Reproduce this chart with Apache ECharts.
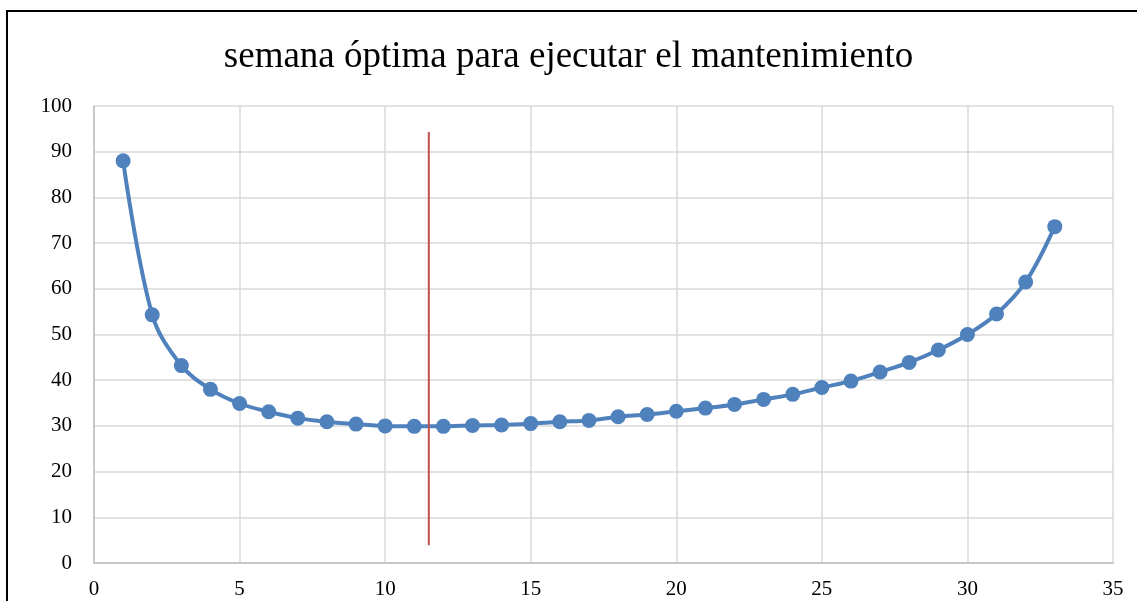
<!DOCTYPE html>
<html>
<head>
<meta charset="utf-8">
<script src="https://cdn.jsdelivr.net/npm/echarts@6/dist/echarts.min.js"></script>
<style>
  html, body { margin: 0; padding: 0; background: #fff; }
  #frame { position: absolute; left: 6px; top: 10px; width: 1140px; height: 600px; border: 2px solid #000; box-sizing: border-box; }
  #chart { position: absolute; left: 0; top: 0; width: 1137px; height: 601px; }
</style>
</head>
<body>
<div id="frame"></div>
<div id="chart"></div>
<script>
  // semanas y costo
  var weeks = [1, 2, 3, 4, 5, 6, 7, 8, 9, 10, 11, 12, 13, 14, 15, 16, 17,
    18, 19, 20, 21, 22, 23, 24, 25, 26, 27, 28, 29, 30, 31, 32, 33];
  var costs = [88, 54.3, 43.2, 38.0, 34.9, 33.1, 31.7, 30.9, 30.4, 30.0, 29.9,
    29.9, 30.1, 30.2, 30.5, 30.9, 31.2, 32.0, 32.5, 33.2, 33.9, 34.7, 35.8,
    36.9, 38.4, 39.8, 41.8, 43.9, 46.6, 50.0, 54.5, 61.5, 73.6];

  // línea roja: semana óptima
  var optimalWeek = 11.5;
  var optimalRange = [3.9, 94.3];

  var titleText = "semana óptima para ejecutar el mantenimiento";
  var serif = "'Liberation Serif', 'DejaVu Serif', serif";

  var chart = echarts.init(document.getElementById("chart"));

  var option = {
    animation: false,
    title: {
      text: titleText,
      left: "center",
      top: 34,
      textStyle: { fontFamily: serif, fontSize: 37, fontWeight: "normal", color: "#000" }
    },
    grid: { left: 94, right: 24, top: 106, bottom: 38 },
    xAxis: {
      type: "value",
      min: 0, max: 35, interval: 5,
      axisLine: { show: true, lineStyle: { color: "#bfbfbf", width: 1.5 } },
      axisTick: { show: false },
      axisLabel: { fontFamily: serif, fontSize: 21, color: "#000", margin: 16 },
      splitLine: { show: true, lineStyle: { color: "#d9d9d9", width: 1.5 } }
    },
    yAxis: {
      type: "value",
      min: 0, max: 100, interval: 10,
      axisLine: { show: true, lineStyle: { color: "#bfbfbf", width: 1.5 } },
      axisTick: { show: false },
      axisLabel: { fontFamily: serif, fontSize: 21, color: "#000", margin: 22 },
      splitLine: { show: true, lineStyle: { color: "#d9d9d9", width: 1.5 } }
    },
    series: [
      {
        type: "line",
        data: weeks.map(function (w, i) { return [w, costs[i]]; }),
        smooth: 0.35,
        symbol: "circle",
        symbolSize: 15,
        lineStyle: { color: "#4f81bd", width: 4 },
        itemStyle: { color: "#4f81bd" },
        z: 3
      },
      {
        type: "line",
        data: optimalRange.map(function (v) { return [optimalWeek, v]; }),
        symbol: "none",
        lineStyle: { color: "#c0504d", width: 2 },
        z: 4
      }
    ]
  };

  chart.setOption(option);
</script>
</body>
</html>
